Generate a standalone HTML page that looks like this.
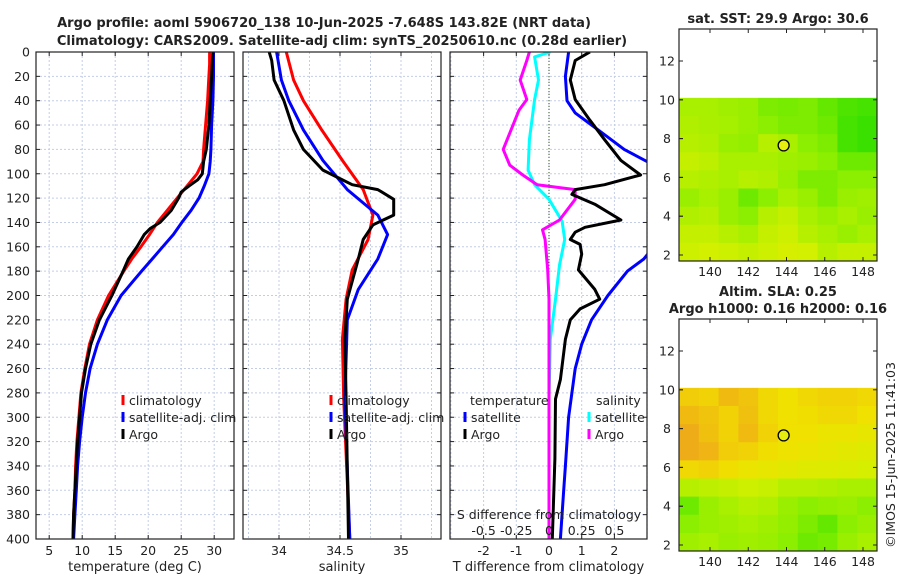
<!DOCTYPE html>
<html><head><meta charset="utf-8">
<style>
html,body{margin:0;padding:0;background:#fff;}
svg{display:block;font-family:"DejaVu Sans","Liberation Sans",sans-serif;}
</style></head>
<body>
<svg id="fig" width="900" height="580" viewBox="0 0 900 580"></svg>
<script>
// ---------- data ----------
const depthTicks = [0,20,40,60,80,100,120,140,160,180,200,220,240,260,280,300,320,340,360,380,400];
const tempTicks = [5,10,15,20,25,30];
const salTicks = [34,34.5,35];
const salTickLabels = ["34","34.5","35"];
const tdiffTicks = [-2,-1,0,1,2];
const sdiffTicks = [-0.5,-0.25,0,0.25,0.5];
const sdiffTickLabels = ["-0.5","-0.25","0","0.25","0.5"];

const climTDepth = [0,10,20,40,60,80,90,100,110,120,130,140,150,160,170,180,200,220,240,260,280,300,320,340,360,380,400];
const climT = [29.3,29.3,29.2,29.0,28.7,28.4,28.3,27.4,25.9,24.4,22.9,21.4,20.2,18.9,17.5,16.3,14.0,12.3,11.1,10.4,9.8,9.5,9.2,9.0,8.9,8.7,8.6];
const satTDepth = [0,10,20,40,60,80,90,100,110,120,130,140,150,160,170,180,200,220,240,260,280,300,320,340,360,380,400];
const satT = [29.9,29.9,29.9,29.8,29.6,29.5,29.4,29.2,28.5,27.7,26.5,25.1,23.8,22.2,20.6,19.0,15.9,13.8,12.3,11.2,10.5,10.0,9.6,9.3,9.1,8.9,8.7];
const argoTDepth = [0,10,20,40,60,80,90,100,105,110,115,120,130,140,145,150,160,170,180,200,220,240,260,280,300,320,340,360,380,400];
const argoT = [29.8,29.7,29.6,29.4,29.2,28.8,28.4,28.2,27.5,26.2,25.0,24.6,23.5,21.8,20.3,19.4,18.3,17.0,16.2,14.5,12.6,11.3,10.5,9.9,9.6,9.3,9.1,8.9,8.7,8.6];

const climSDepth = [0,23,40,64,89,113,134,154,179,203,236,285,400];
const climS = [34.06,34.12,34.20,34.35,34.52,34.69,34.77,34.73,34.60,34.55,34.52,34.53,34.58];
const satSDepth = [0,23,40,64,89,113,134,150,170,195,220,285,400];
const satS = [33.98,34.02,34.08,34.20,34.36,34.56,34.81,34.89,34.81,34.65,34.56,34.54,34.58];
const argoSDepth = [0,7,23,40,64,80,97,109,113,121,134,142,154,170,203,236,285,400];
const argoS = [33.92,33.94,33.96,34.04,34.12,34.20,34.36,34.60,34.81,34.94,34.94,34.77,34.69,34.65,34.56,34.54,34.55,34.57];

const satTdDepth = [0,20,40,50,60,70,80,90,100,120,140,160,170,180,200,220,240,260,280,300,320,340,360,400];
const satTd = [0.6,0.5,0.55,0.8,1.3,1.8,2.3,3.0,3.5,4.5,4.2,3.2,2.9,2.4,1.8,1.3,1.0,0.8,0.7,0.6,0.55,0.5,0.45,0.35];
const argoTdDepth = [0,7,23,39,56,72,89,101,109,113,117,125,138,144,148,154,158,166,179,195,203,211,220,236,269,285,334,400];
const argoTd = [1.25,0.8,0.65,0.8,1.25,1.7,2.2,2.8,1.7,0.8,0.7,1.4,2.2,1.1,0.8,0.65,0.95,1.0,0.9,1.4,1.55,0.95,0.65,0.5,0.35,0.2,0.18,0.1];
const satSdDepth = [0,4,23,39,72,97,109,121,139,154,175,203,236,285,400];
const satSd = [0.01,-0.11,-0.08,-0.11,-0.15,-0.16,-0.11,0.0,0.1,0.12,0.08,0.05,0.01,0,0];
const argoSdDepth = [0,7,23,39,48,80,93,101,109,113,121,138,146,154,179,203,400];
const argoSd = [-0.15,-0.17,-0.22,-0.17,-0.23,-0.35,-0.30,-0.2,-0.09,0.2,0.2,0.08,-0.05,-0.03,-0.01,0,0];

// map grids: rows from north (10N) to south (~1.6N), values 0 (green) .. 1 (orange)
const sstGrid = [
 [0.45,0.45,0.42,0.40,0.30,0.28,0.30,0.22,0.15,0.12],
 [0.48,0.46,0.44,0.40,0.35,0.30,0.30,0.25,0.12,0.08],
 [0.50,0.48,0.40,0.38,0.50,0.45,0.35,0.30,0.12,0.08],
 [0.55,0.52,0.45,0.45,0.45,0.42,0.40,0.35,0.25,0.25],
 [0.50,0.48,0.45,0.50,0.48,0.40,0.30,0.30,0.35,0.35],
 [0.40,0.45,0.40,0.25,0.35,0.45,0.40,0.30,0.40,0.42],
 [0.48,0.50,0.40,0.35,0.50,0.55,0.45,0.40,0.45,0.40],
 [0.55,0.55,0.50,0.45,0.55,0.58,0.50,0.45,0.40,0.45],
 [0.58,0.60,0.58,0.55,0.58,0.62,0.60,0.50,0.55,0.55]
];
const slaGrid = [
 [0.82,0.80,0.88,0.85,0.78,0.75,0.78,0.80,0.80,0.78],
 [0.88,0.85,0.80,0.86,0.78,0.75,0.76,0.78,0.78,0.75],
 [0.92,0.86,0.80,0.88,0.80,0.75,0.75,0.72,0.72,0.70],
 [0.92,0.90,0.82,0.80,0.76,0.74,0.72,0.70,0.68,0.66],
 [0.78,0.80,0.76,0.72,0.70,0.68,0.66,0.65,0.64,0.62],
 [0.50,0.52,0.55,0.58,0.56,0.50,0.50,0.48,0.45,0.45],
 [0.25,0.40,0.45,0.50,0.48,0.40,0.35,0.38,0.40,0.35],
 [0.35,0.40,0.42,0.45,0.42,0.38,0.30,0.22,0.35,0.40],
 [0.42,0.45,0.40,0.42,0.40,0.35,0.25,0.28,0.40,0.45]
];
const argoLon = 143.85, argoLat = 7.65;
const mapLonTicks = [140,142,144,146,148];
const mapLatTicks = [2,4,6,8,10,12];

// ---------- helpers ----------
const NS = "http://www.w3.org/2000/svg";
const svg = document.getElementById("fig");
function mk(tag, attrs, parent){
  const e = document.createElementNS(NS, tag);
  for (const k in attrs) e.setAttribute(k, attrs[k]);
  (parent||svg).appendChild(e);
  return e;
}
function txt(x,y,s,size,anchor,weight,parent){
  const t = mk("text",{x:x,y:y,"font-size":size,"text-anchor":anchor||"middle","font-weight":weight||"normal",fill:"#222"},parent);
  t.textContent = s; return t;
}
const Y0=52, Y1=539;
const yD = d => Y0 + d/400*(Y1-Y0);
function lin(d0,d1,r0,r1){ return v => r0 + (v-d0)/(d1-d0)*(r1-r0); }

function panel(name,x0,x1,xs,xticks,xlabels,gridx,xlabel){
  const g = mk("g",{});
  
  
  gridx.forEach(v=>{ const x=xs(v); mk("line",{x1:x,x2:x,y1:Y0,y2:Y1,stroke:"#c3cde6","stroke-width":1,"stroke-dasharray":"2,2"},g); });
  depthTicks.forEach(d=>{ const y=yD(d); mk("line",{x1:x0,x2:x1,y1:y,y2:y,stroke:"#c3cde6","stroke-width":1,"stroke-dasharray":"2,2"},g);
    mk("line",{x1:x0,x2:x0+4,y1:y,y2:y,stroke:"#222"},g); mk("line",{x1:x1-4,x2:x1,y1:y,y2:y,stroke:"#222"},g); });
  xticks.forEach((v,i)=>{ const x=xs(v);
    mk("line",{x1:x,x2:x,y1:Y1,y2:Y1-4,stroke:"#222"},g); mk("line",{x1:x,x2:x,y1:Y0,y2:Y0+4,stroke:"#222"},g);
    if (xlabels) { const t=txt(x,555,xlabels[i],12.5,"middle","normal",g);
        }
  });
  if (xlabel){ const t=txt((x0+x1)/2,571,xlabel,13,"middle","normal",g);
      }
  const clip = mk("clipPath",{id:"clip-"+name}); mk("rect",{x:x0,y:Y0,width:x1-x0,height:Y1-Y0},clip);
  const lg = mk("g",{"clip-path":"url(#clip-"+name+")"},g);
  mk("rect",{x:x0,y:Y0,width:x1-x0,height:Y1-Y0,fill:"none",stroke:"#222","stroke-width":1.2},g);
  return lg;
}
function series(parent,name,depths,vals,xs,color){
  const pts = vals.map((v,i)=> xs(v).toFixed(1)+","+yD(depths[i]).toFixed(1)).join(" ");
  const p = mk("polyline",{points:pts,fill:"none",stroke:color,"stroke-width":3,"stroke-linejoin":"round"},parent);
  
  
}
function legend(x,y,color,label,parent){
  const g = mk("g",{},parent);
  
  
  mk("line",{x1:x,x2:x,y1:y-10,y2:y,stroke:color,"stroke-width":3},g);
  txt(x+6,y,label,12.5,"start","normal",g);
}

// ---------- titles ----------
const t1 = txt(324,27,"Argo profile: aoml 5906720_138 10-Jun-2025 -7.648S 143.82E (NRT data)",13,"middle","bold");
 
const t2 = txt(342,45,"Climatology: CARS2009. Satellite-adj clim: synTS_20250610.nc (0.28d earlier)",13,"middle","bold");
 

// ---------- panel 1 temperature ----------
const xT = lin(3,33,36,234);
const p1 = panel("temperature-panel",36,234,xT,tempTicks,tempTicks.map(String),tempTicks,"temperature (deg C)");
depthTicks.forEach(d=>{ const t=txt(30,yD(d)+4.5,String(d),12.5,"end");
    });
series(p1,"climatology-temperature-line",climTDepth,climT,xT,"#ff0000");
series(p1,"satellite-temperature-line",satTDepth,satT,xT,"#0000ff");
series(p1,"argo-temperature-line",argoTDepth,argoT,xT,"#000000");
legend(123,405,"#ff0000","climatology");
legend(123,422,"#0000ff","satellite-adj. clim");
legend(123,439,"#000000","Argo");

// ---------- panel 2 salinity ----------
const xS = lin(34,34.5,279,340);
const p2 = panel("salinity-panel",243,441,xS,salTicks,salTickLabels,[33.75,34,34.25,34.5,34.75,35,35.25],"salinity");
series(p2,"climatology-salinity-line",climSDepth,climS,xS,"#ff0000");
series(p2,"satellite-salinity-line",satSDepth,satS,xS,"#0000ff");
series(p2,"argo-salinity-line",argoSDepth,argoS,xS,"#000000");
legend(331,405,"#ff0000","climatology");
legend(331,422,"#0000ff","satellite-adj. clim");
legend(331,439,"#000000","Argo");

// ---------- panel 3 differences ----------
const xTd = lin(0,1,549,581.7);
const xSd = lin(0,0.25,549,581.7);
const p3 = panel("difference-panel",450,647,xTd,tdiffTicks,["-2","-1","0","1","2"],[-3,-2,-1,0,1,2,3],"T difference from climatology");
mk("line",{x1:xTd(0),x2:xTd(0),y1:Y0,y2:Y1,stroke:"#335522","stroke-width":1,"stroke-dasharray":"1,2"},p3);
series(p3,"satellite-salinity-diff-line",satSdDepth,satSd,xSd,"#00ffff");
series(p3,"argo-salinity-diff-line",argoSdDepth,argoSd,xSd,"#ff00ff");
series(p3,"satellite-temperature-diff-line",satTdDepth,satTd,xTd,"#0000ff");
series(p3,"argo-temperature-diff-line",argoTdDepth,argoTd,xTd,"#000000");
sdiffTicks.forEach((v,i)=>{ const t=txt(xSd(v),535,sdiffTickLabels[i],12.5,"middle");
    });
const sdt = txt(549,519,"S difference from climatology",12.5,"middle");
 
const lt = txt(470,405,"temperature",12.5,"start");  
legend(465,422,"#0000ff","satellite");
legend(465,439,"#000000","Argo");
const ls = txt(596,405,"salinity",12.5,"start");  
legend(589,422,"#00ffff","satellite");
legend(589,439,"#ff00ff","Argo");

// ---------- maps ----------
function cmap(v){
  const stops=[[0,[34,221,0]],[0.35,[140,238,0]],[0.6,[210,240,0]],[0.75,[240,225,0]],[0.9,[240,180,20]],[1,[232,140,40]]];
  for(let i=1;i<stops.length;i++){ if(v<=stops[i][0]){ const a=stops[i-1],b=stops[i],f=(v-a[0])/(b[0]-a[0]);
    return "rgb("+a[1].map((c,k)=>Math.round(c+(b[1][k]-c)*f)).join(",")+")"; } }
  return "rgb(232,140,40)";
}
function mapPanel(name,top,bottom,lat12y,lat2y,grid){
  const left=679,right=877;
  const xL = lin(140,148,710,863), yL = lin(12,2,lat12y,lat2y);
  const g = mk("g",{});
  
  
  const latTop=10.1, latBot=yL.length?0:0;
  const yTop=yL(latTop), rows=grid.length, cols=grid[0].length;
  const cw=(right-left)/cols, ch=(bottom-yTop)/rows;
  grid.forEach((row,r)=>row.forEach((v,c)=>{
    const cell = mk("rect",{x:left+c*cw,y:yTop+r*ch,width:cw+0.5,height:ch+0.5,fill:cmap(v)},g);
    
    
  }));
  const dot = mk("circle",{cx:xL(argoLon),cy:yL(argoLat),r:5.5,fill:"#e6ee10",stroke:"#000","stroke-width":1.3},g);
  
  
  mk("rect",{x:left,y:top,width:right-left,height:bottom-top,fill:"none",stroke:"#222","stroke-width":1.2},g);
  mapLonTicks.forEach(v=>{ const x=xL(v);
    mk("line",{x1:x,x2:x,y1:top,y2:top+4,stroke:"#222"},g); mk("line",{x1:x,x2:x,y1:bottom,y2:bottom-4,stroke:"#222"},g);
    const t=txt(x,bottom+15,String(v),12.5,"middle","normal",g);   });
  mapLatTicks.forEach(v=>{ const y=yL(v);
    mk("line",{x1:left,x2:left+4,y1:y,y2:y,stroke:"#222"},g); mk("line",{x1:right,x2:right-4,y1:y,y2:y,stroke:"#222"},g);
    mk("line",{x1:left,x2:left+4,y1:y,y2:y,stroke:"#222"},g);
    const t=txt(left-4-8,y+4.5,String(v),12.5,"middle","normal",g);   });
}
mapPanel("sst-map",29,261,61,255,sstGrid);
mapPanel("sla-map",319,551,351,545,slaGrid);
const mt1 = txt(778,23,"sat. SST: 29.9 Argo: 30.6",13,"middle","bold");
 
const mt2 = txt(778,296,"Altim. SLA: 0.25",13,"middle","bold");
 
const mt3 = txt(778,313,"Argo h1000: 0.16 h2000: 0.16",13,"middle","bold");
 
const cr = txt(0,0,"©IMOS 15-Jun-2025 11:41:03",12.5,"middle");
cr.setAttribute("transform","translate(895,455) rotate(-90)");
 
</script>
</body></html>
